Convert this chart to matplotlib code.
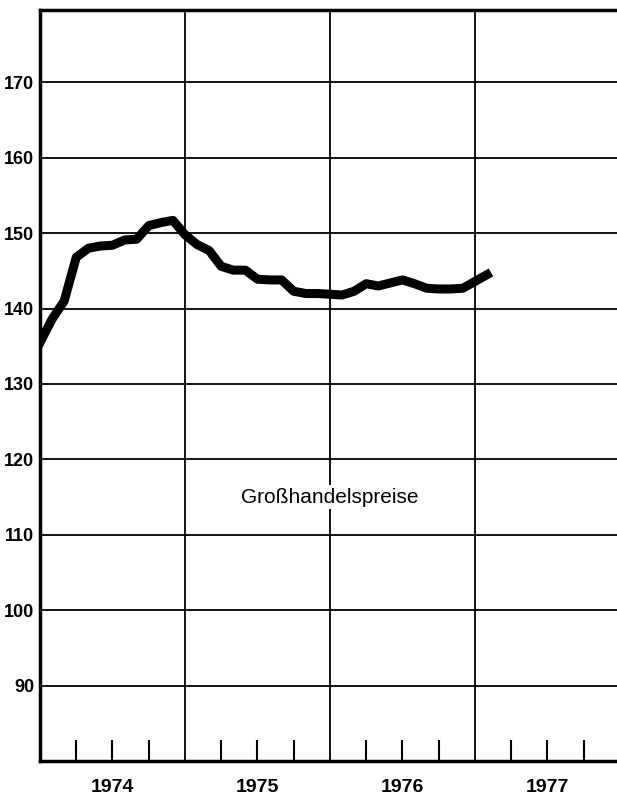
#!/usr/bin/env python3
"""Großhandelspreise 1974-1977 (monthly index)"""

import numpy as np
import matplotlib
matplotlib.use("Agg")
import matplotlib.pyplot as plt

plt.rcParams['font.family'] = ['Liberation Sans', 'DejaVu Sans']

# Data: monthly index values, starting January 1974
START_YEAR = 1974
values = [135.5, 138.6, 141.0, 146.8, 148.0, 148.3, 148.4, 149.1, 149.2, 151.0,
          151.4, 151.7,
          149.8, 148.5, 147.7, 145.6, 145.1, 145.1, 143.9, 143.8, 143.8, 142.3,
          142.0, 142.0,
          141.9, 141.8, 142.3, 143.3, 143.0, 143.4, 143.8, 143.3, 142.7, 142.6,
          142.6, 142.7,
          143.6, 144.5]
years = [1974, 1975, 1976, 1977]
y_ticks = [90, 100, 110, 120, 130, 140, 150, 160, 170]
series_label = "Großhandelspreise"

x = START_YEAR + np.arange(len(values)) / 12.0

W, H = 617, 801
fig = plt.figure(figsize=(W / 100, H / 100), dpi=100)
ax = fig.add_axes([40 / W, 1 - 761 / H, 1 - 40 / W, (761 - 10) / H])

ax.set_xlim(1974.0, 1977.98)
ax.set_ylim(80, 179.6)

# grid
for yv in y_ticks:
    ax.axhline(yv, color='black', linewidth=1.3, zorder=1)
for yr in years[1:]:
    ax.axvline(yr, color='black', linewidth=1.3, zorder=1)

ax.plot(x, values, color='black', linewidth=6.5, solid_joinstyle='round',
        solid_capstyle='projecting', zorder=3)

ax.text(1976.0, 115, series_label, ha='center', va='center', fontsize=15,
        bbox=dict(facecolor='white', edgecolor='none', pad=2), zorder=4)

# spines
for s in ['left', 'bottom', 'top']:
    ax.spines[s].set_linewidth(2.5)
ax.spines['right'].set_visible(False)

ax.set_yticks(y_ticks)
ax.set_yticklabels([str(v) for v in y_ticks], fontsize=13, fontweight='bold')
ax.tick_params(axis='y', length=0, pad=4)

# quarter ticks pointing inward from bottom
quarters = [yr + q for yr in years for q in (0.25, 0.5, 0.75)]
ax.set_xticks(quarters)
ax.set_xticklabels([])
ax.tick_params(axis='x', direction='in', length=15, width=1.5)

for yr in years:
    ax.text(yr + 0.5, -0.035, str(yr), transform=ax.get_xaxis_transform(),
            ha='center', va='center', fontsize=14, fontweight='bold')

fig.savefig('out.png', dpi=100)
